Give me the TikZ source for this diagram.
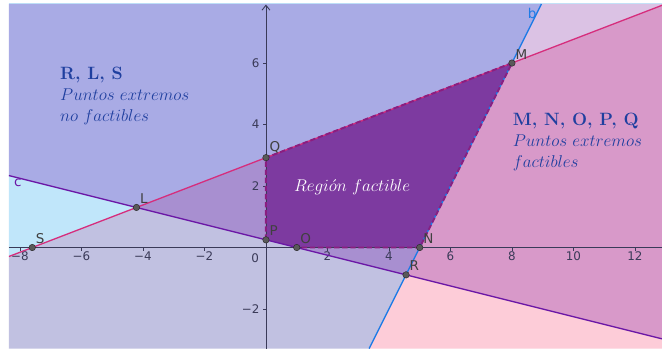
\RequirePackage{fix-cm}
\documentclass[tikz,border=0pt]{standalone}
\usepackage{fontspec}
\newfontfamily\ggbsans{DejaVu Sans}
\usetikzlibrary{arrows.meta}
\definecolor{ggblav}{HTML}{A9ABE5}
\definecolor{ggblilac}{HTML}{DBC2E4}
\definecolor{ggborchid}{HTML}{D899C9}
\definecolor{ggbpink}{HTML}{FDCCD8}
\definecolor{ggbgray}{HTML}{C1C1E1}
\definecolor{ggbsky}{HTML}{C0E6FA}
\definecolor{ggbmid}{HTML}{A88FD0}
\definecolor{ggbfeas}{HTML}{7D3AA0}
\definecolor{ggbrim}{HTML}{8A1E80}
\definecolor{ggbp}{HTML}{D62D7C}
\definecolor{ggbc}{HTML}{6B17A6}
\definecolor{ggbb}{HTML}{1E7BE6}
\definecolor{ggbaxis}{HTML}{3A3A58}
\definecolor{ggbtext}{HTML}{1F3F9F}
\newcommand{\headline}[1]{{\fontsize{16.5}{19.5}\selectfont\textbf{#1}}}
\begin{document}
\begin{tikzpicture}[
    >={Straight Barb[length=1.6mm, width=2.6mm]},
    dot/.style={circle, draw=black!85, fill=black!65, inner sep=0pt, minimum size=6pt},
    lab/.style={font=\ggbsans\fontsize{12.5}{14}\selectfont, text=black!75, anchor=south west, inner sep=0pt},
    tk/.style={font=\ggbsans\fontsize{11}{12}\selectfont, text=ggbaxis, inner sep=0pt},
    rim/.style={draw=ggbrim, line width=1.8pt, dash pattern=on 5pt off 2.5pt},
    ln/.style={line width=1.2pt},
    txt/.style={align=left, text=ggbtext, font=\fontsize{15.8}{19.5}\selectfont, anchor=north west, inner sep=0pt}]
  \useasboundingbox[fill=white] (-8.65,-3.29) rectangle (12.88,8.05);
  \draw[ggbsky, line width=0.8pt] (-8.36,7.95) -- (12.88,7.95);
  \begin{scope}
  \clip (-8.36,-3.29) rectangle (12.88,7.92);
  % frame corners and where the three lines leave the view
  \coordinate (tl) at (-8.36,7.92); \coordinate (tr) at (12.88,7.92);
  \coordinate (bl) at (-8.36,-3.29); \coordinate (br) at (12.88,-3.29);
  \coordinate (pl) at (-8.36,-0.292); \coordinate (pr) at (12.88,7.877);
  \coordinate (cl) at (-8.36,2.34);  \coordinate (cr) at (12.88,-2.97);
  \coordinate (bb) at (3.355,-3.29); \coordinate (bt) at (8.96,7.92);
  % extreme points
  \coordinate (S) at (-7.6,0);  \coordinate (L) at (-4.212,1.303);
  \coordinate (Q) at (0,2.923); \coordinate (M) at (8,6);
  \coordinate (N) at (5,0);     \coordinate (O) at (1,0);
  \coordinate (P) at (0,0.25);  \coordinate (R) at (4.556,-0.889);
  % half planes
  \fill[ggblav] (tl) -- (bt) -- (M) -- (L) -- (cl) -- cycle;
  \fill[ggblilac] (bt) -- (tr) -- (pr) -- (M) -- cycle;
  \fill[ggborchid] (M) -- (pr) -- (cr) -- (R) -- cycle;
  \fill[ggbpink] (R) -- (cr) -- (br) -- (bb) -- cycle;
  \fill[ggbsky] (cl) -- (L) -- (pl) -- cycle;
  \fill[ggbgray] (pl) -- (L) -- (R) -- (bb) -- (bl) -- cycle;
  \fill[ggbmid] (L) -- (M) -- (R) -- cycle;
  \fill[ggbfeas] (Q) -- (M) -- (N) -- (O) -- (P) -- cycle;
  % axes
  \draw[ggbaxis, line width=0.8pt] (-8.36,0) -- (12.88,0);
  \draw[ggbaxis, line width=0.8pt, ->] (0,-3.29) -- (0,7.9);
  \foreach \x/\t in {-8/−8,-6/−6,-4/−4,-2/−2,2/2,4/4,6/6,8/8,10/10,12/12}
    \draw[ggbaxis] (\x,0) -- (\x,-0.1) node[tk, anchor=north, yshift=-1pt] (tx\x) {\t};
  \foreach \y/\t in {-2/−2,2/2,4/4,6/6}
    \draw[ggbaxis] (0,\y) -- (-0.1,\y) node[tk, anchor=east, xshift=-3pt] (ty\y) {\t};
  \node[tk, anchor=north east] (t0) at (-0.22,-0.18) {0};
  % lines and region border
  \draw[ln, ggbc] (cl) -- (cr);
  \draw[ln, ggbp] (pl) -- (pr);
  \draw[ln, ggbb] (bb) -- (bt);
  \draw[rim] (P) -- (Q) -- (M) -- (N) -- (O);
  \node[lab, text=ggbb] (nb) at (8.51,7.43) {b};
  \node[lab, text=ggbc, anchor=base west] (nc) at (-8.2,1.97) {c};
  \foreach \p in {S,L,Q,M,N,O,P,R}{
    \node[dot] (d\p) at (\p) {};
    \node[lab] (l\p) at ([shift={(0.11,0.12)}]\p) {\p};}
  \end{scope}
  \node[txt] (bad) at (-6.70,5.87) {\headline{R, L, S}\\$Puntos\ extremos$\\$no\ factibles$};
  \node[txt] (good) at (8.02,4.37) {\headline{M, N, O, P, Q}\\$Puntos\ extremos$\\$factibles$};
  \node[font=\fontsize{15.8}{19}\selectfont, text=white] (feas) at (2.80,1.97) {$Regi\acute{o}n\ factible$};
\end{tikzpicture}
\end{document}
